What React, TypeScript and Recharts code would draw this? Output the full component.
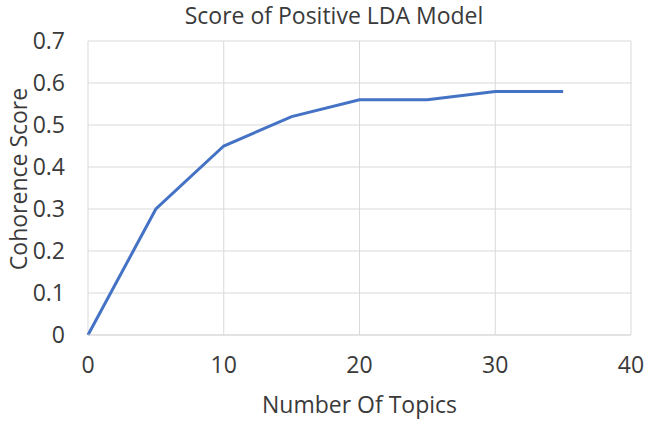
import { LineChart, Line, XAxis, YAxis, CartesianGrid, Label } from 'recharts';

const topics = [0, 5, 10, 15, 20, 25, 30, 35];
const coherence = [0, 0.3, 0.45, 0.52, 0.56, 0.56, 0.58, 0.58];
const xTicks = [0, 10, 20, 30, 40];
const yTicks = [0, 0.1, 0.2, 0.3, 0.4, 0.5, 0.6, 0.7];

const data = topics.map((t, i) => ({ topics: t, score: coherence[i] }));

const font = "'Open Sans', 'Liberation Sans', sans-serif";
const textColor = '#3a3a3a';
const fontSize = 23;

export default function App() {
  return (
    <div style={{ position: 'absolute', left: 0, top: 0, width: 646, height: 421, background: '#fff', fontFamily: font }}>
      <div
        style={{
          position: 'absolute',
          top: 0,
          left: 0,
          width: 646,
          textAlign: 'center',
          fontSize: 23,
          lineHeight: '30px',
          color: textColor,
          paddingLeft: 22,
          boxSizing: 'border-box',
        }}
      >
        Score of Positive LDA Model
      </div>
      <LineChart width={646} height={421} data={data} margin={{ top: 41, right: 15, bottom: 56, left: 28 }}>
        <CartesianGrid stroke="#d9d9d9" strokeWidth={1} />
        <XAxis
          dataKey="topics"
          type="number"
          domain={[0, 40]}
          ticks={xTicks}
          height={30}
          tickLine={false}
          tickSize={0}
          tickMargin={22}
          axisLine={{ stroke: '#d9d9d9' }}
          tick={{ fontSize, fill: textColor, fontFamily: font }}
        >
          <Label
            value="Number Of Topics"
            position="bottom"
            offset={32}
            style={{ fontSize, fill: textColor, fontFamily: font }}
          />
        </XAxis>
        <YAxis
          type="number"
          domain={[0, 0.7]}
          ticks={yTicks}
          width={60}
          tickLine={false}
          tickSize={0}
          tickMargin={23}
          axisLine={false}
          tick={{ fontSize, fill: textColor, fontFamily: font }}
        >
          <Label
            content={() => (
              <text
                x={18}
                y={179}
                transform="rotate(-90 18 179)"
                textAnchor="middle"
                dominantBaseline="central"
                style={{ fontSize, fill: textColor, fontFamily: font }}
              >
                Cohorence Score
              </text>
            )}
          />
        </YAxis>
        <Line
          type="linear"
          dataKey="score"
          stroke="#4472c4"
          strokeWidth={3}
          dot={false}
          isAnimationActive={false}
        />
      </LineChart>
    </div>
  );
}
